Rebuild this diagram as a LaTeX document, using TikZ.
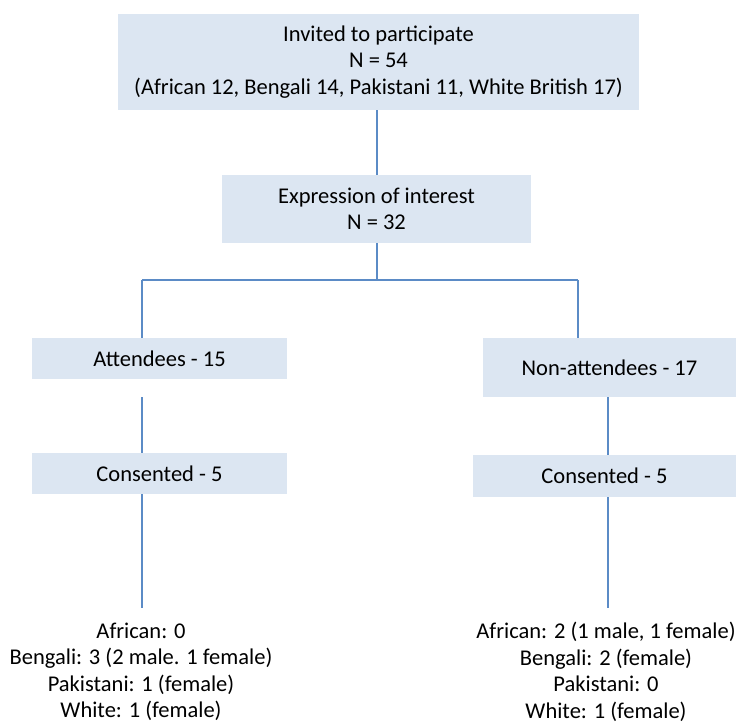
\documentclass[tikz,border=0pt]{standalone}
\usepackage{fontspec}
\setmainfont{Carlito}
\begin{document}
\begin{tikzpicture}[x=1pt,y=-1pt,
  every node/.style={font=\fontsize{22.5}{26.5}\selectfont, align=center, inner sep=0pt},
  stagebox/.style={fill=boxfill, draw=none},
  link/.style={draw=linkblue, line width=1.3pt}]
\definecolor{boxfill}{HTML}{DCE6F2}
\definecolor{linkblue}{HTML}{5B8BC6}
\useasboundingbox (0,0) rectangle (736,724);

% stage boxes
\node[stagebox, minimum width=521pt, minimum height=96pt] (invited) at (378.5,62)
  {Invited to participate\\N = 54\\(African 12, Bengali 14, Pakistani 11, White British 17)};
\node[stagebox, minimum width=309pt, minimum height=68pt] (interest) at (376.5,209)
  {Expression of interest\\N = 32};
\node[stagebox, minimum width=255pt, minimum height=41pt] (attend) at (159.5,358.5)
  {Attendees - 15};
\node[stagebox, minimum width=253pt, minimum height=59pt] (nonattend) at (609.5,367.5)
  {Non-attendees - 17};
\node[stagebox, minimum width=255pt, minimum height=41pt] (consL) at (159.5,473.5)
  {Consented - 5};
\node[stagebox, minimum width=263pt, minimum height=42pt] (consR) at (604.5,476)
  {Consented - 5};

% breakdown of consented participants
\node (detailL) at (141,672)
  {African: 0\\Bengali: 3 (2 male. 1 female)\\Pakistani: 1 (female)\\White: 1 (female)};
\node (detailR) at (606,672)
  {African: 2 (1 male, 1 female)\\Bengali: 2 (female)\\Pakistani: 0\\White: 1 (female)};

% branching points and free line ends
\coordinate (split) at (377,280);
\coordinate (splitL) at (142,280);
\coordinate (splitR) at (578,280);
\coordinate (attendL) at (142,397);
\coordinate (nonattendR) at (608,397);
\coordinate (consLend) at (142,608);
\coordinate (consRend) at (608,608);

% connectors
\draw[link] (invited.south -| split) -- (interest.north -| split);
\draw[link] (interest.south -| split) -- (split);
\draw[link] (splitL) -- (splitR);
\draw[link] (splitL) -- (splitL |- attend.north);
\draw[link] (splitR) -- (splitR |- nonattend.north);
\draw[link] (attendL) -- (attendL |- consL.north);
\draw[link] (nonattendR) -- (nonattendR |- consR.north);
\draw[link] (consL.south -| consLend) -- (consLend);
\draw[link] (consR.south -| consRend) -- (consRend);
\end{tikzpicture}
\end{document}
